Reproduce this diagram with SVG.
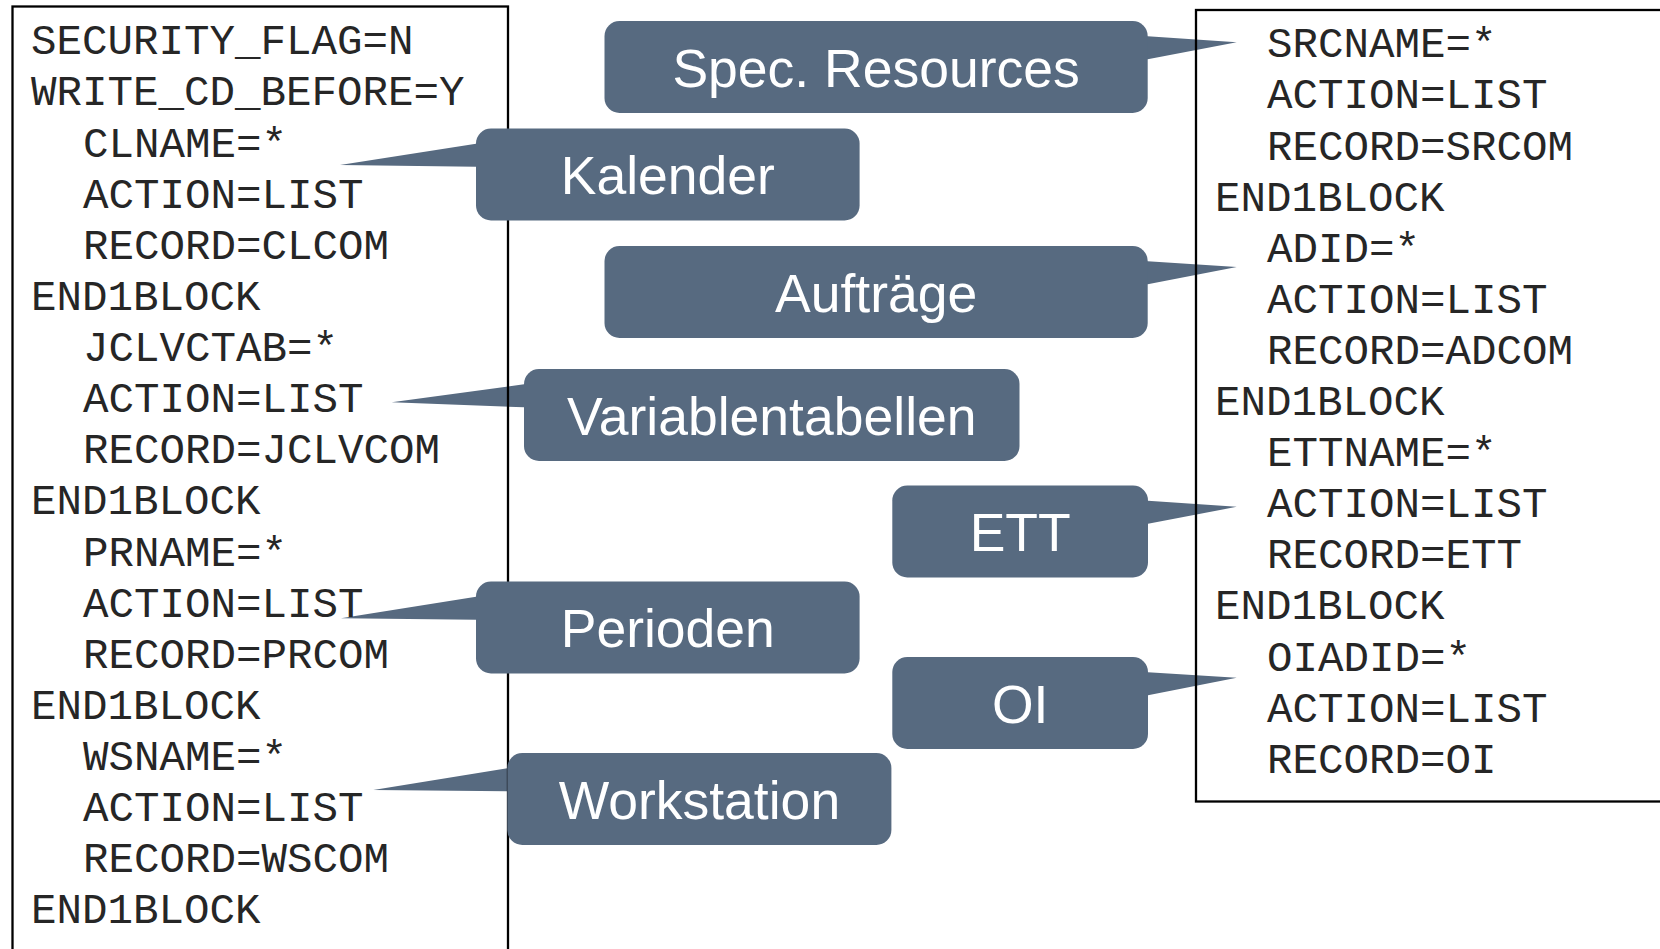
<svg xmlns="http://www.w3.org/2000/svg" width="1660" height="949" viewBox="0 0 1660 949">
<style>
.frame{fill:none;stroke:#000;stroke-width:2.3}
.code{font-family:"Liberation Mono","Courier New",monospace;font-size:42.5px;fill:#262626}
.box{fill:#576a80}
.wedge{fill:#576a80}
.lbl{font-family:"Liberation Sans",Arial,sans-serif;font-size:53.5px;fill:#fff;text-anchor:middle}
</style>
<rect width="1660" height="949" fill="#fff"/>
<g id="connectors">
<polygon class="wedge" points="1144.7,36.3 1147.7,36.3 1236.7,42.3 1147.7,59.3 1144.7,59.3"/>
<polygon class="wedge" points="479,143.8 476,143.8 340,165 476,166.8 479,166.8"/>
<polygon class="wedge" points="1144.7,261.3 1147.7,261.3 1236.7,267 1147.7,284.3 1144.7,284.3"/>
<polygon class="wedge" points="527,384.3 524,384.3 391.7,402.3 524,407.3 527,407.3"/>
<polygon class="wedge" points="1145,500.8 1148,500.8 1236.7,506.8 1148,523.8 1145,523.8"/>
<polygon class="wedge" points="479,596.8 476,596.8 341,618.3 476,619.8 479,619.8"/>
<polygon class="wedge" points="1145,672.3 1148,672.3 1236.7,677.7 1148,695.3 1145,695.3"/>
<polygon class="wedge" points="510.3,768.3 507.3,768.3 373.3,790 507.3,791.3 510.3,791.3"/>
</g>
<g id="left-code">
<rect class="frame" x="12.5" y="6.5" width="495.5" height="960"/>
<text class="code" x="31" y="54.3">SECURITY_FLAG=N</text>
<text class="code" x="31" y="105.4">WRITE_CD_BEFORE=Y</text>
<text class="code" x="83" y="156.5">CLNAME=*</text>
<text class="code" x="83" y="207.7">ACTION=LIST</text>
<text class="code" x="83" y="258.8">RECORD=CLCOM</text>
<text class="code" x="31" y="309.9">END1BLOCK</text>
<text class="code" x="83" y="361">JCLVCTAB=*</text>
<text class="code" x="83" y="412.1">ACTION=LIST</text>
<text class="code" x="83" y="463.3">RECORD=JCLVCOM</text>
<text class="code" x="31" y="514.4">END1BLOCK</text>
<text class="code" x="83" y="565.5">PRNAME=*</text>
<text class="code" x="83" y="616.6">ACTION=LIST</text>
<text class="code" x="83" y="667.7">RECORD=PRCOM</text>
<text class="code" x="31" y="718.9">END1BLOCK</text>
<text class="code" x="83" y="770">WSNAME=*</text>
<text class="code" x="83" y="821.1">ACTION=LIST</text>
<text class="code" x="83" y="872.2">RECORD=WSCOM</text>
<text class="code" x="31" y="923.3">END1BLOCK</text>
</g>
<g id="right-code">
<rect class="frame" x="1196" y="10" width="480" height="791.5"/>
<text class="code" x="1267" y="57.3">SRCNAME=*</text>
<text class="code" x="1267" y="108.4">ACTION=LIST</text>
<text class="code" x="1267" y="159.5">RECORD=SRCOM</text>
<text class="code" x="1215" y="210.6">END1BLOCK</text>
<text class="code" x="1267" y="261.7">ADID=*</text>
<text class="code" x="1267" y="312.8">ACTION=LIST</text>
<text class="code" x="1267" y="363.9">RECORD=ADCOM</text>
<text class="code" x="1215" y="415">END1BLOCK</text>
<text class="code" x="1267" y="466.1">ETTNAME=*</text>
<text class="code" x="1267" y="517.2">ACTION=LIST</text>
<text class="code" x="1267" y="568.3">RECORD=ETT</text>
<text class="code" x="1215" y="619.4">END1BLOCK</text>
<text class="code" x="1267" y="670.5">OIADID=*</text>
<text class="code" x="1267" y="721.6">ACTION=LIST</text>
<text class="code" x="1267" y="772.7">RECORD=OI</text>
</g>
<g id="spec-resources">
<rect class="box" x="604.5" y="21" width="543.2" height="92" rx="15"/>
<text class="lbl" x="876.1" y="86.5">Spec. Resources</text>
</g>
<g id="kalender">
<rect class="box" x="476" y="128.5" width="383.6" height="92" rx="15"/>
<text class="lbl" x="667.8" y="194">Kalender</text>
</g>
<g id="auftraege">
<rect class="box" x="604.5" y="246" width="543.2" height="92" rx="15"/>
<text class="lbl" x="876.1" y="311.5">Aufträge</text>
</g>
<g id="variablentabellen">
<rect class="box" x="524" y="369" width="495.5" height="92" rx="15"/>
<text class="lbl" x="771.8" y="434.5">Variablentabellen</text>
</g>
<g id="ett">
<rect class="box" x="892.3" y="485.5" width="255.7" height="92" rx="15"/>
<text class="lbl" x="1020.2" y="551">ETT</text>
</g>
<g id="perioden">
<rect class="box" x="476" y="581.5" width="383.6" height="92" rx="15"/>
<text class="lbl" x="667.8" y="647">Perioden</text>
</g>
<g id="oi">
<rect class="box" x="892.3" y="657" width="255.7" height="92" rx="15"/>
<text class="lbl" x="1020.2" y="722.5">OI</text>
</g>
<g id="workstation">
<rect class="box" x="507.3" y="753" width="384.1" height="92" rx="15"/>
<text class="lbl" x="699.4" y="818.5">Workstation</text>
</g>
</svg>
